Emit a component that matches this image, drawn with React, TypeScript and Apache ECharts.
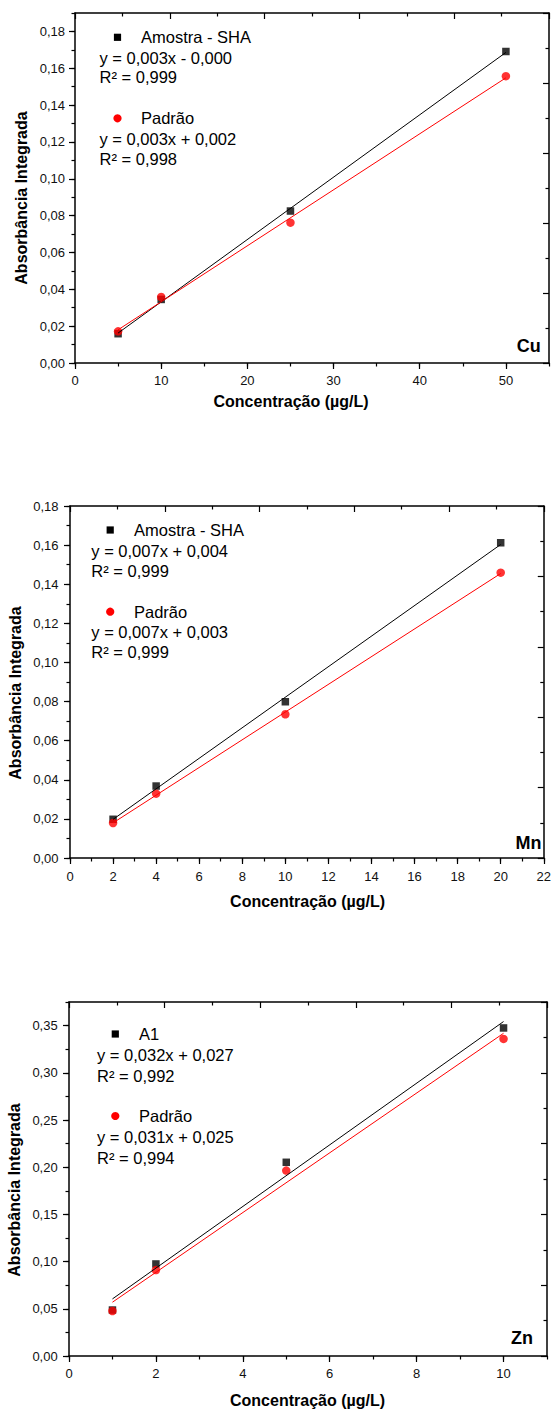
import React, { useEffect, useRef } from "react";
import * as echarts from "echarts";

// ---------- data ----------
const cuX = [5, 10, 25, 50];
const cuAmostra = [0.0159, 0.0345, 0.0825, 0.1691];
const cuPadrao = [0.0172, 0.0358, 0.0762, 0.1557];

const mnX = [2, 4, 10, 20];
const mnAmostra = [0.0198, 0.0368, 0.0799, 0.1612];
const mnPadrao = [0.0179, 0.0329, 0.0735, 0.1459];

const znX = [1, 2, 5, 10];
const znA1 = [0.0487, 0.0975, 0.2052, 0.3475];
const znPadrao = [0.0477, 0.0911, 0.1964, 0.3359];

const cuXTicks = [0, 10, 20, 30, 40, 50];
const cuYTicks = [0, 0.02, 0.04, 0.06, 0.08, 0.1, 0.12, 0.14, 0.16, 0.18];
const mnXTicks = [0, 2, 4, 6, 8, 10, 12, 14, 16, 18, 20, 22];
const mnYTicks = [0, 0.02, 0.04, 0.06, 0.08, 0.1, 0.12, 0.14, 0.16, 0.18];
const znXTicks = [0, 2, 4, 6, 8, 10];
const znYTicks = [0, 0.05, 0.1, 0.15, 0.2, 0.25, 0.3, 0.35];

const cuTexts = ["Amostra - SHA", "y = 0,003x - 0,000", "R² = 0,999", "Padrão", "y = 0,003x + 0,002", "R² = 0,998", "Cu"];
const mnTexts = ["Amostra - SHA", "y = 0,007x + 0,004", "R² = 0,999", "Padrão", "y = 0,007x + 0,003", "R² = 0,999", "Mn"];
const znTexts = ["A1", "y = 0,032x + 0,027", "R² = 0,992", "Padrão", "y = 0,031x + 0,025", "R² = 0,994", "Zn"];

const xTitle = "Concentração (µg/L)";
const yTitle = "Absorbância Integrada";

// ---------- helpers ----------
const FONT = "'Liberation Sans', Arial, Helvetica, sans-serif";

function fitLine(xs: number[], ys: number[]) {
  const n = xs.length;
  const mx = xs.reduce((a, b) => a + b, 0) / n;
  const my = ys.reduce((a, b) => a + b, 0) / n;
  let sxx = 0, sxy = 0;
  for (let i = 0; i < n; i++) {
    sxx += (xs[i] - mx) * (xs[i] - mx);
    sxy += (xs[i] - mx) * (ys[i] - my);
  }
  const b = sxy / sxx;
  const a = my - b * mx;
  return [[xs[0], a + b * xs[0]], [xs[n - 1], a + b * xs[n - 1]]];
}

const panels = [
  {
    grid: { left: 75, top: 13, width: 474, height: 350 },
    xs: cuX, s1: cuAmostra, s2: cuPadrao, texts: cuTexts,
    x: { max: 55, major: 10, minor: 5, ticks: cuXTicks },
    y: { max: 0.19, major: 0.02, minor: 0.01, ticks: cuYTicks },
    yLabelMargin: 10, xLabelMargin: 11,
    lay: { mx: 117.5, nx: 141, ex: 99.5, rows: [37.3, 57.7, 77.3, 118.3, 138.7, 158.7], elR: 540.7, elY: 346, ytX: 21, ytY: 198, xtX: 291, xtY: 401 },
  },
  {
    grid: { left: 70, top: 506, width: 476, height: 352 },
    xs: mnX, s1: mnAmostra, s2: mnPadrao, texts: mnTexts,
    x: { max: 22, major: 2, minor: 1, ticks: mnXTicks },
    y: { max: 0.18, major: 0.02, minor: 0.01, ticks: mnYTicks },
    yLabelMargin: 11.5, xLabelMargin: 11.5,
    lay: { mx: 110.2, nx: 134, ex: 91.3, rows: [530, 550.7, 570.7, 611.7, 631.7, 652.3], elR: 541.4, elY: 843.3, ytX: 15, ytY: 693, xtX: 307.6, xtY: 901 },
  },
  {
    grid: { left: 69, top: 1002, width: 478, height: 354 },
    xs: znX, s1: znA1, s2: znPadrao, texts: znTexts,
    x: { max: 11, major: 2, minor: 1, ticks: znXTicks },
    y: { max: 0.375, major: 0.05, minor: 0.025, ticks: znYTicks },
    yLabelMargin: 11.3, xLabelMargin: 11,
    lay: { mx: 115.3, nx: 139, ex: 97, rows: [1034, 1055, 1075.7, 1116, 1137, 1157.7], elR: 533, elY: 1338, ytX: 14.2, ytY: 1190, xtX: 307.5, xtY: 1400 },
  },
];

function buildOption() {
  const grids: any[] = [];
  const xAxes: any[] = [];
  const yAxes: any[] = [];
  const series: any[] = [];
  const graphics: any[] = [];
  const black = "#000";
  const red = "#ff0000";
  const labelStyle = { fontSize: 13, color: "#111", fontFamily: FONT };

  panels.forEach((p, g) => {
    grids.push({ ...p.grid, containLabel: false });
    // main x (bottom)
    xAxes.push({
      type: "value", gridIndex: g, position: "bottom", min: 0, max: p.x.max, interval: p.x.major,
      axisLine: { show: true, onZero: false, lineStyle: { color: black, width: 1.5 } },
      axisTick: { show: true, inside: false, length: 6, customValues: p.x.ticks, lineStyle: { color: black, width: 1.2 } },
      axisLabel: { ...labelStyle, margin: p.xLabelMargin, customValues: p.x.ticks, formatter: (v: number) => String(v) },
      splitLine: { show: false },
    });
    // minor x ticks
    xAxes.push({
      type: "value", gridIndex: g, position: "bottom", min: 0, max: p.x.max, interval: p.x.minor,
      axisLine: { show: false, onZero: false },
      axisTick: { show: true, inside: false, length: 3.5, lineStyle: { color: black, width: 1.2 } },
      axisLabel: { show: false }, splitLine: { show: false },
    });
    // top frame axis
    xAxes.push({
      type: "value", gridIndex: g, position: "top", min: 0, max: 5, interval: 1,
      axisLine: { show: true, onZero: false, lineStyle: { color: black, width: 1.5 } },
      axisTick: { show: true, inside: true, length: 6, lineStyle: { color: black, width: 1.2 } },
      minorTick: { show: true, splitNumber: 2, length: 3.5, lineStyle: { color: black, width: 1.2 } },
      axisLabel: { show: false }, splitLine: { show: false }, minorSplitLine: { show: false },
    });
    // main y (left)
    yAxes.push({
      type: "value", gridIndex: g, position: "left", min: 0, max: p.y.max, interval: p.y.major,
      axisLine: { show: true, onZero: false, lineStyle: { color: black, width: 1.5 } },
      axisTick: { show: true, inside: false, length: 6, customValues: p.y.ticks, lineStyle: { color: black, width: 1.2 } },
      axisLabel: { ...labelStyle, margin: p.yLabelMargin, customValues: p.y.ticks, formatter: (v: number) => v.toFixed(2).replace(".", ",") },
      splitLine: { show: false },
    });
    // minor y ticks
    yAxes.push({
      type: "value", gridIndex: g, position: "left", min: 0, max: p.y.max, interval: p.y.minor,
      axisLine: { show: false, onZero: false },
      axisTick: { show: true, inside: false, length: 3.5, lineStyle: { color: black, width: 1.2 } },
      axisLabel: { show: false }, splitLine: { show: false },
    });
    // right frame axis
    yAxes.push({
      type: "value", gridIndex: g, position: "right", min: 0, max: 5, interval: 1,
      axisLine: { show: true, onZero: false, lineStyle: { color: black, width: 1.5 } },
      axisTick: { show: true, inside: true, length: 6, lineStyle: { color: black, width: 1.2 } },
      minorTick: { show: true, splitNumber: 2, length: 3.5, lineStyle: { color: black, width: 1.2 } },
      axisLabel: { show: false }, splitLine: { show: false }, minorSplitLine: { show: false },
    });

    const xi = g * 3;
    const yi = g * 3;
    series.push({
      type: "scatter", xAxisIndex: xi, yAxisIndex: yi, symbol: "rect", symbolSize: 7.5,
      itemStyle: { color: black }, data: p.xs.map((x, i) => [x, p.s1[i]]), z: 2,
    });
    series.push({
      type: "scatter", xAxisIndex: xi, yAxisIndex: yi, symbol: "circle", symbolSize: 8.5,
      itemStyle: { color: red }, data: p.xs.map((x, i) => [x, p.s2[i]]), z: 3,
    });
    series.push({
      type: "line", xAxisIndex: xi, yAxisIndex: yi, showSymbol: false, symbol: "none",
      lineStyle: { color: black, width: 1 }, data: fitLine(p.xs, p.s1), z: 4,
    });
    series.push({
      type: "line", xAxisIndex: xi, yAxisIndex: yi, showSymbol: false, symbol: "none",
      lineStyle: { color: red, width: 1 }, data: fitLine(p.xs, p.s2), z: 4,
    });

    const L = p.lay;
    const t = p.texts;
    const txt = (text: string, x: number, y: number, extra: any = {}) => ({
      type: "text", x, y, z: 10,
      style: {
        text, x: 0, y: 0, fill: "#000", fontSize: 16.5, fontFamily: FONT,
        align: "left", verticalAlign: "middle", textAlign: "left", textVerticalAlign: "middle", ...extra,
      },
    });
    graphics.push({ type: "rect", z: 10, shape: { x: L.mx - 3.6, y: L.rows[0] - 3.6, width: 7.2, height: 7.2 }, style: { fill: black } });
    graphics.push(txt(t[0], L.nx, L.rows[0]));
    graphics.push(txt(t[1], L.ex, L.rows[1]));
    graphics.push(txt(t[2], L.ex, L.rows[2]));
    graphics.push({ type: "circle", z: 10, shape: { cx: L.mx, cy: L.rows[3], r: 4.1 }, style: { fill: red } });
    graphics.push(txt(t[3], L.nx, L.rows[3]));
    graphics.push(txt(t[4], L.ex, L.rows[4]));
    graphics.push(txt(t[5], L.ex, L.rows[5]));
    graphics.push(txt(t[6], L.elR, L.elY, { fontSize: 18, fontWeight: "bold", align: "right", textAlign: "right" }));
    graphics.push(txt(xTitle, L.xtX, L.xtY, { fontSize: 16, fontWeight: "bold", align: "center", textAlign: "center" }));
    graphics.push({
      ...txt(yTitle, L.ytX, L.ytY, { fontSize: 16, fontWeight: "bold", align: "center", textAlign: "center" }),
      rotation: Math.PI / 2,
    });
  });

  return {
    animation: false,
    backgroundColor: "#fff",
    grid: grids,
    xAxis: xAxes,
    yAxis: yAxes,
    series,
    graphic: { elements: graphics },
  };
}

export default function App() {
  const ref = useRef<HTMLDivElement>(null);
  useEffect(() => {
    document.body.style.margin = "0";
    if (!ref.current) return;
    const chart = echarts.init(ref.current, null, { renderer: "svg" });
    chart.setOption(buildOption() as any);
    return () => chart.dispose();
  }, []);
  return <div ref={ref} style={{ width: 554, height: 1410, background: "#fff" }} />;
}
